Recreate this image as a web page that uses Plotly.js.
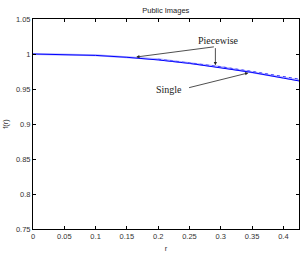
<!DOCTYPE html>
<html><head><meta charset="utf-8">
<script src="https://cdn.plot.ly/plotly-3.0.1.min.js"></script>
<style>html,body{margin:0;padding:0;background:#fff}#c{width:307px;height:256px}</style>
</head><body><div id="c"></div>
<script>
const rSingle = [0, 0.05, 0.1, 0.15, 0.2, 0.25, 0.3, 0.35, 0.4, 0.425];
const fSingle = [1.000, 0.9995, 0.998, 0.9953, 0.9915, 0.9866, 0.9806, 0.9737, 0.9656, 0.9615];
const rPiece = [0, 0.1, 0.2, 0.3, 0.425];
const fPiece = [1.000, 0.9982, 0.9925, 0.9815, 0.9625];
const rDot = [0.2, 0.25, 0.3, 0.35, 0.4, 0.425];
const fDot = [0.9925, 0.9875, 0.9818, 0.9752, 0.968, 0.9642];
const xTicks = [0, 0.05, 0.1, 0.15, 0.2, 0.25, 0.3, 0.35, 0.4];
const xTickLabels = ["0", "0.05", "0.1", "0.15", "0.2", "0.25", "0.3", "0.35", "0.4"];
const yTicks = [0.75, 0.8, 0.85, 0.9, 0.95, 1, 1.05];
const yTickLabels = ["0.75", "0.8", "0.85", "0.9", "0.95", "1", "1.05"];

const traces = [
  {x: rPiece, y: fPiece, mode: 'lines', line: {color: '#a8a8ff', width: 2}, hoverinfo: 'none'},
  {x: rPiece, y: fPiece, mode: 'lines', line: {color: '#e2e2ff', width: 0.6}, hoverinfo: 'none'},
  {x: rSingle, y: fSingle, mode: 'lines', line: {color: '#0000ff', width: 1}, hoverinfo: 'none'},
  {x: rDot, y: fDot, mode: 'lines', line: {color: '#4040ff', width: 1, dash: 'dot'}, hoverinfo: 'none'}
];
const axisCommon = {
  showgrid: false, zeroline: false, showline: true, mirror: 'ticks',
  linecolor: '#000', linewidth: 1, ticks: 'inside', ticklen: 3, tickcolor: '#000',
  tickfont: {family: 'Liberation Sans, Arial, sans-serif', size: 7.5, color: '#333'}
};
const serif = {family: 'Liberation Serif, Times New Roman, serif', size: 10, color: '#222'};
const layout = {
  width: 307, height: 256,
  margin: {l: 33, r: 8, t: 19, b: 27},
  paper_bgcolor: '#fff', plot_bgcolor: '#fff',
  showlegend: false,
  title: {text: 'Public Images', font: {family: 'Liberation Sans, Arial, sans-serif', size: 7.5, color: '#222'}, x: 0.54, xanchor: 'center', y: 0.96, yanchor: 'middle'},
  xaxis: Object.assign({}, axisCommon, {range: [0, 0.425], tickvals: xTicks, ticktext: xTickLabels,
    title: {text: 'r', font: {family: 'Liberation Sans, Arial, sans-serif', size: 7.5, color: '#333'}, standoff: 5}}),
  yaxis: Object.assign({}, axisCommon, {range: [0.75, 1.05], tickvals: yTicks, ticktext: yTickLabels,
    title: {text: 'f(r)', font: {family: 'Liberation Sans, Arial, sans-serif', size: 7.5, color: '#333'}, standoff: 6}}),
  annotations: [
    {x: 0.297, y: 1.0195, xref: 'x', yref: 'y', text: 'Piecewise', showarrow: false, font: serif},
    {x: 0.165, y: 0.9957, ax: 0.2914, ay: 1.0105, axref: 'x', ayref: 'y', xref: 'x', yref: 'y', text: '', showarrow: true, arrowhead: 2, arrowsize: 0.8, arrowwidth: 0.8, arrowcolor: '#222'},
    {x: 0.2914, y: 0.984, ax: 0.2914, ay: 1.0105, axref: 'x', ayref: 'y', xref: 'x', yref: 'y', text: '', showarrow: true, arrowhead: 2, arrowsize: 0.8, arrowwidth: 0.8, arrowcolor: '#222'},
    {x: 0.218, y: 0.950, xref: 'x', yref: 'y', text: 'Single', showarrow: false, font: serif},
    {x: 0.344, y: 0.973, ax: 0.247, ay: 0.9514, axref: 'x', ayref: 'y', xref: 'x', yref: 'y', text: '', showarrow: true, arrowhead: 2, arrowsize: 0.8, arrowwidth: 0.8, arrowcolor: '#222'}
  ]
};
Plotly.newPlot('c', traces, layout, {staticPlot: true, displayModeBar: false});
</script></body></html>
